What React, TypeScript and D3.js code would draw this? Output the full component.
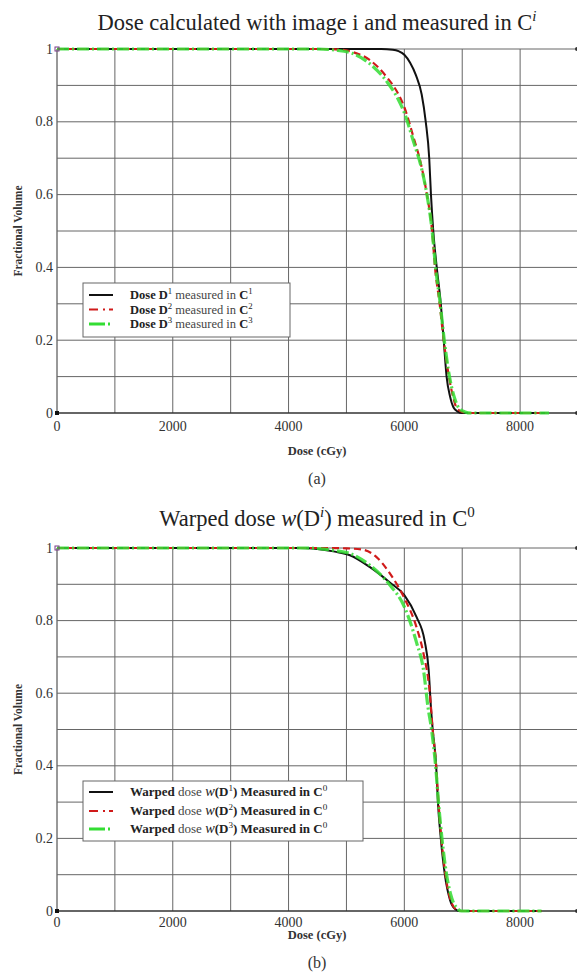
import * as d3 from 'd3';

// dose axis ticks (cGy) and volume ticks
const doseTicks = [0, 2000, 4000, 6000, 8000];
const volTicks = [0, 0.2, 0.4, 0.6, 0.8, 1];

// panel (a): dose calculated with image i, measured in C^i
const aDose1 = [0, 5600, 5800, 5900, 6000, 6100, 6200, 6300, 6370, 6430, 6460, 6500, 6560, 6630, 6680, 6730, 6790, 6850, 6920, 7000, 8450];
const aVol1 = [1, 1, 0.998, 0.994, 0.984, 0.962, 0.928, 0.875, 0.8, 0.7, 0.6, 0.5, 0.4, 0.3, 0.2, 0.1, 0.045, 0.015, 0.004, 0, 0];
const aDose2 = [0, 4600, 4900, 5100, 5400, 5700, 5900, 6000, 6150, 6300, 6390, 6480, 6530, 6610, 6680, 6770, 6850, 6900, 7000, 7100, 8450];
const aVol2 = [1, 1, 0.998, 0.992, 0.97, 0.922, 0.875, 0.84, 0.762, 0.675, 0.6, 0.5, 0.4, 0.3, 0.2, 0.1, 0.04, 0.015, 0.003, 0, 0];
const aDose3 = [0, 4500, 4800, 5100, 5400, 5700, 5900, 6000, 6150, 6300, 6390, 6480, 6540, 6620, 6690, 6780, 6870, 6950, 7050, 7150, 8500];
const aVol3 = [1, 1, 0.997, 0.988, 0.96, 0.91, 0.86, 0.825, 0.75, 0.67, 0.6, 0.5, 0.4, 0.3, 0.2, 0.1, 0.04, 0.012, 0.003, 0, 0];

// panel (b): warped dose measured in C^0
const bDose1 = [0, 4200, 4500, 4800, 5060, 5400, 5750, 6000, 6210, 6350, 6420, 6460, 6490, 6550, 6580, 6630, 6700, 6790, 6880, 6960, 8370];
const bVol1 = [1, 1, 0.997, 0.99, 0.98, 0.948, 0.905, 0.87, 0.81, 0.745, 0.665, 0.56, 0.5, 0.4, 0.3, 0.2, 0.1, 0.03, 0.005, 0, 0];
const bDose2 = [0, 4600, 5000, 5290, 5520, 5750, 6000, 6210, 6330, 6440, 6490, 6550, 6590, 6640, 6710, 6800, 6880, 6960, 8370];
const bVol2 = [1, 1, 0.999, 0.995, 0.975, 0.93, 0.862, 0.782, 0.71, 0.6, 0.5, 0.4, 0.3, 0.2, 0.1, 0.03, 0.006, 0, 0];
const bDose3 = [0, 4300, 4600, 4800, 5060, 5400, 5750, 6000, 6210, 6330, 6410, 6470, 6540, 6590, 6650, 6730, 6820, 6900, 6990, 8370];
const bVol3 = [1, 1, 0.997, 0.993, 0.985, 0.953, 0.898, 0.838, 0.74, 0.665, 0.56, 0.5, 0.4, 0.3, 0.2, 0.1, 0.035, 0.01, 0, 0];

const FONT = '"Liberation Serif", "DejaVu Serif", serif';

const STYLES = [
  { stroke: '#111', width: 2, dash: undefined as string | undefined },
  { stroke: '#d01a1a', width: 2.2, dash: '7,4' },
  { stroke: '#33dd33', width: 3.2, dash: '12,3,2,3' },
];

type Series = { dose: number[]; vol: number[] };

function Sup({ children }: { children: string }) {
  return (
    <tspan dy={-5} fontSize="0.7em">{children}</tspan>
  );
}

function Panel({ top, bottom, series, title, legend, legendBox, label }: {
  top: number; bottom: number; series: Series[]; title: any; legend: any[];
  legendBox: { x: number; y: number; w: number; h: number; rows: number[]; fs: number };
  label: { axis: number; cap: number; tag: string };
}) {
  const x = d3.scaleLinear().domain([0, 9000]).range([57, 578]);
  const y = d3.scaleLinear().domain([0, 1]).range([bottom, top]);
  const line = d3.line<[number, number]>().x(d => x(d[0])).y(d => y(d[1])).curve(d3.curveMonotoneX);
  const xGrid = d3.range(0, 9001, 1000);
  const yGrid = d3.range(0, 11).map(i => i / 10);
  const lb = legendBox;
  return (
    <g>
      {title}
      {xGrid.map(v => (
        <line key={'x' + v} x1={x(v)} x2={x(v)} y1={y(0)} y2={y(1)} stroke={v === 0 ? '#333' : '#666'} strokeWidth={1} />
      ))}
      {yGrid.map(v => (
        <line key={'y' + v} x1={x(0)} x2={x(9000)} y1={y(v)} y2={y(v)} stroke={v === 0 ? '#333' : '#666'} strokeWidth={v === 0 ? 1.3 : 1} />
      ))}
      {series.map((s, i) => (
        <path key={i} d={line(s.dose.map((d, j) => [d, s.vol[j]]) as [number, number][]) || ''}
          fill="none" stroke={STYLES[i].stroke} strokeWidth={STYLES[i].width}
          strokeDasharray={STYLES[i].dash} strokeOpacity={i === 2 ? 0.85 : 1} />
      ))}
      <rect x={x(0) - 2} y={y(1) - 2} width={4} height={4} fill="none" stroke="#7a3a8a" strokeWidth={1} />
      <rect x={x(0) - 2} y={y(0) - 2} width={4} height={4} fill="#111" />
      <circle cx={577} cy={y(1)} r={2} fill="#333" />
      <circle cx={577} cy={y(0)} r={2} fill="#333" />
      {doseTicks.map(v => (
        <text key={'tx' + v} x={x(v)} y={label.axis} textAnchor="middle" fontSize={14} fontFamily={FONT} fill="#333">{v}</text>
      ))}
      {volTicks.map(v => (
        <text key={'ty' + v} x={53} y={y(v) + 4.5} textAnchor="end" fontSize={14} fontFamily={FONT} fill="#333">{v}</text>
      ))}
      <text x={317} y={label.cap} textAnchor="middle" fontSize={12.5} fontWeight="bold" fontFamily={FONT} fill="#333">Dose (cGy)</text>
      <text x={317} y={label.cap + 29} textAnchor="middle" fontSize={16} fontFamily={FONT} fill="#333">{label.tag}</text>
      <text transform={`translate(22,${(y(0) + y(1)) / 2}) rotate(-90)`} textAnchor="middle" fontSize={11.5} fontWeight="bold" fontFamily={FONT} fill="#333">Fractional Volume</text>
      <rect x={lb.x} y={lb.y} width={lb.w} height={lb.h} fill="#fff" stroke="#666" strokeWidth={1} />
      {legend.map((content, i) => (
        <g key={'lg' + i}>
          <line x1={lb.x + 6} x2={lb.x + 30} y1={lb.rows[i]} y2={lb.rows[i]} stroke={STYLES[i].stroke}
            strokeWidth={STYLES[i].width} strokeDasharray={i === 1 ? '9,5,2,4' : i === 2 ? '16,3,2,4' : undefined} />
          <text x={lb.x + 47} y={lb.rows[i] + 4} fontSize={lb.fs} fontFamily={FONT} fill="#222">{content}</text>
        </g>
      ))}
    </g>
  );
}

export default function App() {
  const seriesA = [
    { dose: aDose1, vol: aVol1 },
    { dose: aDose2, vol: aVol2 },
    { dose: aDose3, vol: aVol3 },
  ];
  const seriesB = [
    { dose: bDose1, vol: bVol1 },
    { dose: bDose2, vol: bVol2 },
    { dose: bDose3, vol: bVol3 },
  ];
  const legendA = ['1', '2', '3'].map(n => (
    <>
      <tspan fontWeight="bold">Dose D</tspan><Sup>{n}</Sup>
      <tspan dy={5} fill="#444"> measured in </tspan>
      <tspan fontWeight="bold">C</tspan><Sup>{n}</Sup>
    </>
  ));
  const legendB = ['1', '2', '3'].map(n => (
    <>
      <tspan fontWeight="bold">Warped</tspan><tspan fill="#444"> dose </tspan>
      <tspan fontStyle="italic" fontSize="1.1em">w</tspan><tspan fontWeight="bold">(D</tspan><Sup>{n}</Sup>
      <tspan dy={5} fontWeight="bold">) Measured in C</tspan><Sup>0</Sup>
    </>
  ));
  return (
    <svg width={577} height={975} style={{ position: 'absolute', left: 0, top: 0, background: '#fff' }}>
      <Panel top={49} bottom={413} series={seriesA}
        title={
          <text x={317} y={30} textAnchor="middle" fontSize={22.5} fontFamily={FONT} fill="#222">
            Dose calculated with image i and measured in C<tspan dy={-9} fontSize={15} fontStyle="italic">i</tspan>
          </text>
        }
        legend={legendA}
        legendBox={{ x: 83, y: 283, w: 207, h: 54, rows: [295, 309.5, 324], fs: 12.5 }}
        label={{ axis: 431, cap: 455, tag: '(a)' }} />
      <Panel top={548} bottom={911} series={seriesB}
        title={
          <text x={317} y={526} textAnchor="middle" fontSize={22.5} fontFamily={FONT} fill="#222">
            Warped dose <tspan fontStyle="italic">w</tspan>(D<tspan dy={-9} fontSize={15} fontStyle="italic">i</tspan><tspan dy={9}>) measured in C</tspan><tspan dy={-9} fontSize={15}>0</tspan>
          </text>
        }
        legend={legendB}
        legendBox={{ x: 83, y: 781, w: 280, h: 60, rows: [792, 811, 829], fs: 13 }}
        label={{ axis: 927, cap: 939, tag: '(b)' }} />
    </svg>
  );
}
